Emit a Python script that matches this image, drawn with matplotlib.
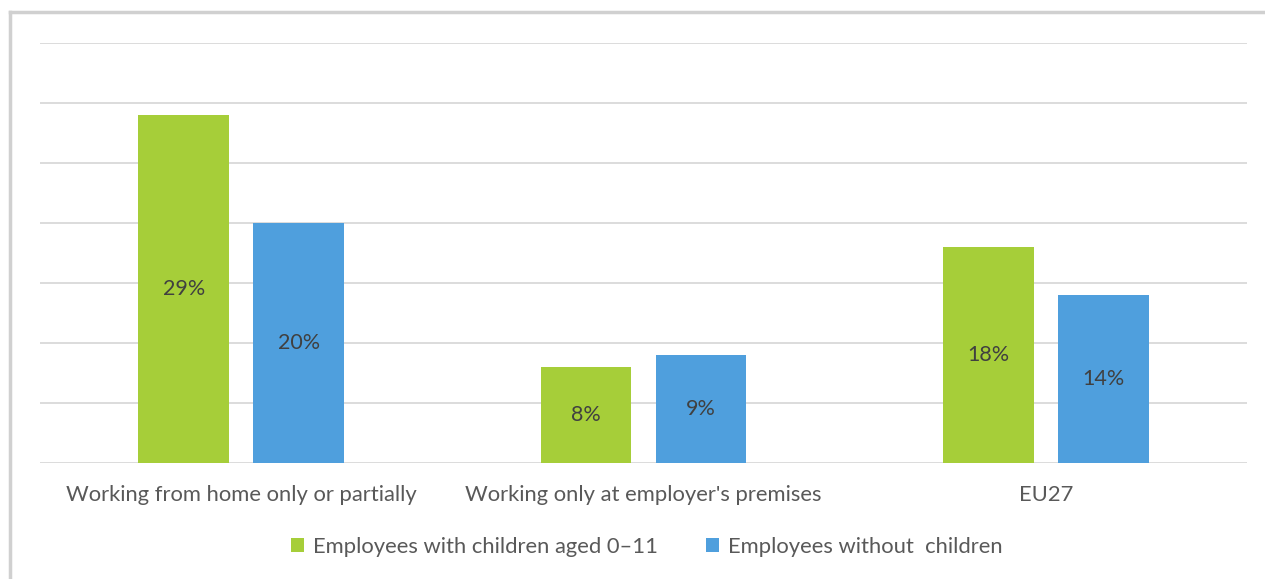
import numpy as np
import matplotlib.pyplot as plt
from matplotlib.lines import Line2D

categories = ["Working from home only or partially",
              "Working only at employer's premises",
              "EU27"]
with_children = [29, 8, 18]
without_children = [20, 9, 14]
series_names = ["Employees with children aged 0\u201311",
                "Employees without  children"]

green = '#A6CE39'
blue = '#4F9FDD'
text_col = '#595959'

plt.rcParams['font.family'] = ['Lato', 'DejaVu Sans']

fig = plt.figure(figsize=(12.65, 5.79), dpi=100)
ax = fig.add_axes([40/1265, 1 - 463/579, 1207/1265, 420/579])

x = np.arange(len(categories))
w = 0.226
off = 0.143
b1 = ax.bar(x - off, with_children, w, color=green, label=series_names[0])
b2 = ax.bar(x + off, without_children, w, color=blue, label=series_names[1])

for bars, vals in ((b1, with_children), (b2, without_children)):
    for r, v in zip(bars, vals):
        ax.text(r.get_x() + r.get_width() / 2, v / 2, f"{v}%",
                ha='center', va='center', fontsize=15.5, color='#404040')

ax.set_xlim(-0.5, 2.5)
ax.set_ylim(0, 35)
ax.set_yticks(np.arange(0, 36, 5))
ax.yaxis.grid(True, color='#D9D9D9', lw=1.3)
ax.set_axisbelow(True)
ax.tick_params(left=False, labelleft=False, bottom=False)
ax.set_xticks(x)
ax.set_xticklabels(categories, fontsize=15.8, color=text_col)
ax.tick_params(axis='x', pad=12)
for s in ax.spines.values():
    s.set_visible(False)

ax.legend(loc='center', bbox_to_anchor=(647 / 1265, (579 - 547) / 579), bbox_transform=fig.transFigure,
          ncol=2, frameon=False, fontsize=15.8, labelcolor=text_col,
          handlelength=0.6, handleheight=0.6, handletextpad=0.4, columnspacing=2.2)

# chart frame
fig.add_artist(Line2D([10/1265, 10/1265], [0, 1 - 12/579], transform=fig.transFigure,
                      color='#D0D0D0', lw=2.5))
fig.add_artist(Line2D([10/1265, 1], [1 - 12/579, 1 - 12/579], transform=fig.transFigure,
                      color='#D0D0D0', lw=2.5))

fig.savefig('out.png', dpi=100)
